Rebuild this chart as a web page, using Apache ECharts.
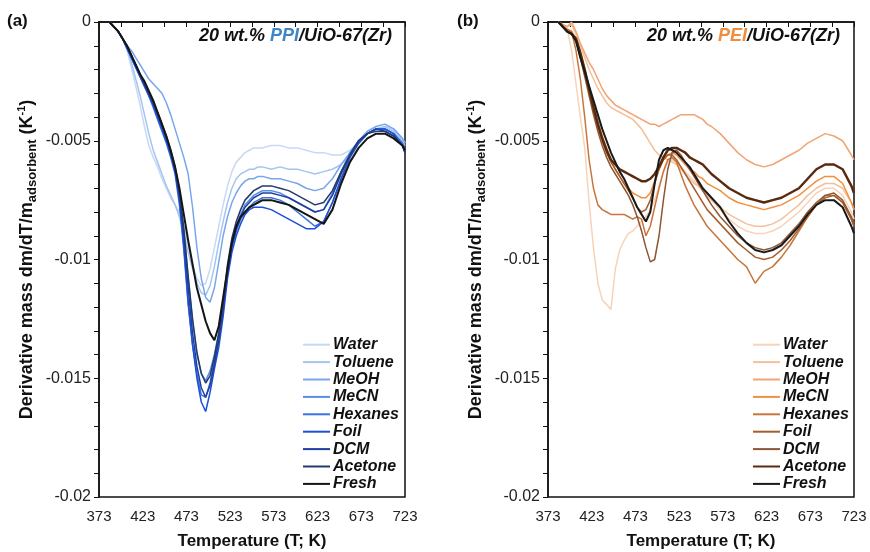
<!DOCTYPE html>
<html lang="en">
<head>
    <meta charset="UTF-8">
    <title>DTG PPI / PEI UiO-67(Zr)</title>
    <script src="https://cdn.jsdelivr.net/npm/echarts@6/dist/echarts.min.js"></script>
    <style>
        html, body { margin: 0; padding: 0; background: #fff; }
        #main { width: 870px; height: 552px; }
    </style>
</head>
<body>
    <div id="main"></div>
    <script>
        // temperatures (K) shared by all curves
        var temps = [385, 390, 395, 400, 405, 410, 415, 420, 425, 430, 435, 440, 445, 450, 455, 460, 465, 470, 475, 480,
            485, 490, 495, 500, 505, 510, 515, 520, 525, 530, 535, 540, 545, 550, 555, 560,
            570, 580, 590, 600, 610, 620, 630, 640, 650, 660, 670, 680, 690, 700, 710, 720, 723];

        var names = ['Water', 'Toluene', 'MeOH', 'MeCN', 'Hexanes', 'Foil', 'DCM', 'Acetone', 'Fresh'];
        var xTicks = [373, 423, 473, 523, 573, 623, 673, 723];
        var yTicks = [0, -0.005, -0.01, -0.015, -0.02];

        // (a) 20 wt.% PPI/UiO-67(Zr)
        var ppiWater = [0, -0.0002, -0.0004, -0.0007, -0.0012, -0.0019, -0.0027, -0.0035, -0.0044, -0.0052, -0.0057, -0.0061, -0.0066, -0.0070, -0.0074, -0.0077, -0.0080, -0.0086, -0.0094, -0.0102,
            -0.0108, -0.0111, -0.0110, -0.0104, -0.0095, -0.0086, -0.0077, -0.0069, -0.0063, -0.0059, -0.0057, -0.0055, -0.0054, -0.0053, -0.0053, -0.0053,
            -0.0052, -0.0052, -0.0053, -0.0053, -0.0054, -0.0055, -0.0055, -0.0056, -0.0056, -0.0054, -0.0051, -0.0047, -0.0045, -0.0044, -0.0045, -0.0049, -0.0051];
        var ppiToluene = [0, -0.0002, -0.0004, -0.0007, -0.0011, -0.0017, -0.0024, -0.0031, -0.0039, -0.0047, -0.0054, -0.0059, -0.0064, -0.0069, -0.0073, -0.0077, -0.0082, -0.0089, -0.0097, -0.0104,
            -0.0110, -0.0114, -0.0115, -0.0111, -0.0103, -0.0093, -0.0084, -0.0076, -0.0070, -0.0066, -0.0064, -0.0063, -0.0062, -0.0062, -0.0061, -0.0061,
            -0.0062, -0.0061, -0.0062, -0.0062, -0.0063, -0.0064, -0.0063, -0.0062, -0.0060, -0.0056, -0.0051, -0.0047, -0.0045, -0.0044, -0.0046, -0.0050, -0.0052];
        var ppiMeOH = [0, -0.0002, -0.0004, -0.0007, -0.0010, -0.0012, -0.0015, -0.0018, -0.0021, -0.0024, -0.0026, -0.0028, -0.0030, -0.0034, -0.0039, -0.0045, -0.0051, -0.0057, -0.0064, -0.0078,
            -0.0095, -0.0108, -0.0116, -0.0118, -0.0112, -0.0101, -0.0090, -0.0082, -0.0076, -0.0072, -0.0069, -0.0067, -0.0066, -0.0066, -0.0065, -0.0065,
            -0.0066, -0.0066, -0.0067, -0.0068, -0.0070, -0.0071, -0.0070, -0.0066, -0.0060, -0.0055, -0.0050, -0.0046, -0.0044, -0.0043, -0.0045, -0.0049, -0.0051];
        var ppiMeCN = [0, -0.0002, -0.0004, -0.0007, -0.0011, -0.0015, -0.0019, -0.0023, -0.0027, -0.0031, -0.0035, -0.0040, -0.0045, -0.0050, -0.0055, -0.0062, -0.0072, -0.0088, -0.0108, -0.0126,
            -0.0140, -0.0148, -0.0151, -0.0147, -0.0140, -0.0131, -0.0119, -0.0104, -0.0093, -0.0086, -0.0081, -0.0077, -0.0075, -0.0073, -0.0072, -0.0071,
            -0.0071, -0.0072, -0.0074, -0.0076, -0.0078, -0.0080, -0.0079, -0.0072, -0.0063, -0.0055, -0.0050, -0.0047, -0.0045, -0.0045, -0.0047, -0.0051, -0.0054];
        var ppiHexanes = [0, -0.0002, -0.0004, -0.0007, -0.0011, -0.0015, -0.0019, -0.0023, -0.0027, -0.0031, -0.0036, -0.0041, -0.0046, -0.0051, -0.0057, -0.0064, -0.0077, -0.0096, -0.0119, -0.0136,
            -0.0148, -0.0157, -0.0158, -0.0152, -0.0143, -0.0134, -0.0121, -0.0106, -0.0095, -0.0088, -0.0083, -0.0080, -0.0078, -0.0076, -0.0075, -0.0074,
            -0.0074, -0.0075, -0.0077, -0.0080, -0.0083, -0.0086, -0.0084, -0.0076, -0.0066, -0.0057, -0.0051, -0.0047, -0.0045, -0.0045, -0.0047, -0.0051, -0.0054];
        var ppiFoil = [0, -0.0002, -0.0004, -0.0007, -0.0011, -0.0015, -0.0019, -0.0023, -0.0027, -0.0031, -0.0035, -0.0040, -0.0045, -0.0050, -0.0056, -0.0063, -0.0075, -0.0094, -0.0118, -0.0136,
            -0.0150, -0.0160, -0.0164, -0.0156, -0.0146, -0.0137, -0.0124, -0.0108, -0.0097, -0.0090, -0.0085, -0.0081, -0.0079, -0.0078, -0.0078, -0.0078,
            -0.0079, -0.0081, -0.0083, -0.0085, -0.0087, -0.0087, -0.0084, -0.0076, -0.0066, -0.0057, -0.0051, -0.0047, -0.0045, -0.0045, -0.0047, -0.0052, -0.0054];
        var ppiDCM = [0, -0.0002, -0.0004, -0.0007, -0.0010, -0.0014, -0.0018, -0.0022, -0.0026, -0.0030, -0.0034, -0.0039, -0.0044, -0.0049, -0.0055, -0.0062, -0.0073, -0.0090, -0.0112, -0.0131,
            -0.0145, -0.0154, -0.0158, -0.0153, -0.0144, -0.0134, -0.0121, -0.0105, -0.0094, -0.0087, -0.0082, -0.0078, -0.0076, -0.0074, -0.0073, -0.0072,
            -0.0072, -0.0073, -0.0074, -0.0076, -0.0078, -0.0080, -0.0079, -0.0073, -0.0064, -0.0056, -0.0050, -0.0047, -0.0045, -0.0046, -0.0048, -0.0052, -0.0055];
        var ppiAcetone = [0, -0.0002, -0.0004, -0.0007, -0.0010, -0.0014, -0.0018, -0.0022, -0.0026, -0.0030, -0.0034, -0.0038, -0.0043, -0.0048, -0.0054, -0.0061, -0.0071, -0.0087, -0.0107, -0.0125,
            -0.0139, -0.0148, -0.0152, -0.0149, -0.0141, -0.0131, -0.0118, -0.0102, -0.0091, -0.0084, -0.0079, -0.0075, -0.0073, -0.0071, -0.0070, -0.0069,
            -0.0069, -0.0070, -0.0071, -0.0073, -0.0075, -0.0077, -0.0076, -0.0071, -0.0063, -0.0056, -0.0050, -0.0047, -0.0046, -0.0046, -0.0048, -0.0052, -0.0055];
        var ppiFresh = [0, -0.0002, -0.0004, -0.0007, -0.0010, -0.0014, -0.0018, -0.0022, -0.0025, -0.0029, -0.0033, -0.0038, -0.0043, -0.0048, -0.0054, -0.0061, -0.0070, -0.0081, -0.0092, -0.0102,
            -0.0112, -0.0119, -0.0126, -0.0131, -0.0134, -0.0128, -0.0116, -0.0104, -0.0093, -0.0086, -0.0082, -0.0080, -0.0078, -0.0077, -0.0076, -0.0075,
            -0.0075, -0.0076, -0.0077, -0.0079, -0.0081, -0.0083, -0.0085, -0.0079, -0.0068, -0.0059, -0.0053, -0.0049, -0.0047, -0.0047, -0.0049, -0.0052, -0.0054];

        // (b) 20 wt.% PEI/UiO-67(Zr)
        var peiWater = [0, -0.0002, -0.0003, -0.0012, -0.0026, -0.0040, -0.0053, -0.0076, -0.0095, -0.0110, -0.0117, -0.0119, -0.0121, -0.0104, -0.0096, -0.0092, -0.0089, -0.0088, -0.0086, -0.0084,
            -0.0082, -0.0079, -0.0075, -0.0069, -0.0063, -0.0059, -0.0058, -0.0059, -0.0061, -0.0063, -0.0065, -0.0067, -0.0069, -0.0071, -0.0073, -0.0075,
            -0.0079, -0.0083, -0.0086, -0.0088, -0.0089, -0.0089, -0.0088, -0.0086, -0.0083, -0.0080, -0.0076, -0.0072, -0.0070, -0.0070, -0.0073, -0.0080, -0.0083];
        var peiToluene = [0, -0.0001, -0.0002, -0.0001, -0.0005, -0.0010, -0.0015, -0.0020, -0.0024, -0.0028, -0.0031, -0.0034, -0.0036, -0.0037, -0.0038, -0.0039, -0.0040, -0.0041, -0.0043, -0.0045,
            -0.0048, -0.0051, -0.0054, -0.0056, -0.0057, -0.0058, -0.0059, -0.0060, -0.0062, -0.0064, -0.0066, -0.0068, -0.0069, -0.0071, -0.0073, -0.0075,
            -0.0078, -0.0081, -0.0083, -0.0085, -0.0086, -0.0086, -0.0085, -0.0083, -0.0080, -0.0077, -0.0073, -0.0070, -0.0068, -0.0068, -0.0070, -0.0076, -0.0079];
        var peiMeOH = [0, -0.0001, -0.0002, 0, -0.0004, -0.0009, -0.0013, -0.0017, -0.0020, -0.0024, -0.0028, -0.0031, -0.0033, -0.0035, -0.0036, -0.0037, -0.0038, -0.0039, -0.0040, -0.0041,
            -0.0042, -0.0043, -0.0043, -0.0044, -0.0043, -0.0042, -0.0041, -0.0040, -0.0039, -0.0039, -0.0039, -0.0039, -0.0040, -0.0041, -0.0043, -0.0044,
            -0.0047, -0.0051, -0.0055, -0.0058, -0.0060, -0.0061, -0.0060, -0.0058, -0.0056, -0.0054, -0.0051, -0.0049, -0.0047, -0.0048, -0.0050, -0.0056, -0.0058];
        var peiMeCN = [0, -0.0002, -0.0003, -0.0004, -0.0007, -0.0013, -0.0020, -0.0028, -0.0035, -0.0042, -0.0048, -0.0053, -0.0058, -0.0062, -0.0065, -0.0068, -0.0070, -0.0072, -0.0073, -0.0074,
            -0.0074, -0.0072, -0.0067, -0.0062, -0.0058, -0.0056, -0.0055, -0.0056, -0.0058, -0.0060, -0.0062, -0.0063, -0.0065, -0.0066, -0.0068, -0.0069,
            -0.0071, -0.0074, -0.0076, -0.0077, -0.0078, -0.0079, -0.0078, -0.0077, -0.0075, -0.0073, -0.0070, -0.0067, -0.0065, -0.0065, -0.0068, -0.0076, -0.0079];
        var peiHexanes = [0, -0.0002, -0.0003, -0.0004, -0.0012, -0.0024, -0.0040, -0.0058, -0.0070, -0.0077, -0.0079, -0.0080, -0.0081, -0.0081, -0.0081, -0.0081, -0.0082, -0.0083, -0.0082, -0.0083,
            -0.0090, -0.0086, -0.0078, -0.0070, -0.0063, -0.0058, -0.0057, -0.0059, -0.0064, -0.0069, -0.0073, -0.0077, -0.0080, -0.0083, -0.0086, -0.0088,
            -0.0092, -0.0096, -0.0100, -0.0103, -0.0110, -0.0105, -0.0103, -0.0099, -0.0094, -0.0088, -0.0082, -0.0077, -0.0073, -0.0073, -0.0076, -0.0083, -0.0086];
        var peiFoil = [0, -0.0002, -0.0004, -0.0005, -0.0008, -0.0014, -0.0021, -0.0029, -0.0037, -0.0044, -0.0050, -0.0055, -0.0059, -0.0062, -0.0065, -0.0068, -0.0071, -0.0074, -0.0078, -0.0080,
            -0.0079, -0.0075, -0.0068, -0.0062, -0.0058, -0.0056, -0.0056, -0.0058, -0.0061, -0.0064, -0.0067, -0.0070, -0.0073, -0.0076, -0.0079, -0.0081,
            -0.0085, -0.0089, -0.0093, -0.0096, -0.0099, -0.0100, -0.0099, -0.0096, -0.0092, -0.0087, -0.0082, -0.0077, -0.0074, -0.0073, -0.0076, -0.0083, -0.0086];
        var peiDCM = [0, -0.0002, -0.0004, -0.0005, -0.0008, -0.0015, -0.0023, -0.0031, -0.0039, -0.0046, -0.0052, -0.0057, -0.0061, -0.0064, -0.0067, -0.0070, -0.0073, -0.0077, -0.0082, -0.0088,
            -0.0095, -0.0101, -0.0100, -0.0090, -0.0075, -0.0062, -0.0055, -0.0054, -0.0056, -0.0059, -0.0062, -0.0065, -0.0068, -0.0071, -0.0074, -0.0077,
            -0.0082, -0.0086, -0.0090, -0.0093, -0.0095, -0.0096, -0.0095, -0.0093, -0.0089, -0.0085, -0.0080, -0.0076, -0.0073, -0.0072, -0.0075, -0.0082, -0.0085];
        var peiAcetone = [0, -0.0002, -0.0004, -0.0005, -0.0007, -0.0013, -0.0020, -0.0028, -0.0036, -0.0043, -0.0049, -0.0054, -0.0058, -0.0060, -0.0062, -0.0063, -0.0064, -0.0065, -0.0066, -0.0067,
            -0.0067, -0.0066, -0.0064, -0.0061, -0.0057, -0.0054, -0.0053, -0.0053, -0.0054, -0.0055, -0.0057, -0.0058, -0.0059, -0.0060, -0.0062, -0.0064,
            -0.0067, -0.0070, -0.0072, -0.0074, -0.0075, -0.0076, -0.0075, -0.0074, -0.0072, -0.0070, -0.0066, -0.0062, -0.0060, -0.0060, -0.0062, -0.0069, -0.0072];
        var peiFresh = [0, -0.0002, -0.0004, -0.0005, -0.0008, -0.0015, -0.0021, -0.0027, -0.0033, -0.0039, -0.0045, -0.0050, -0.0055, -0.0059, -0.0063, -0.0066, -0.0070, -0.0074, -0.0078, -0.0081,
            -0.0084, -0.0080, -0.0068, -0.0058, -0.0054, -0.0053, -0.0054, -0.0055, -0.0057, -0.0059, -0.0061, -0.0064, -0.0067, -0.0070, -0.0072, -0.0074,
            -0.0078, -0.0084, -0.0089, -0.0093, -0.0096, -0.0097, -0.0096, -0.0094, -0.0090, -0.0086, -0.0081, -0.0077, -0.0075, -0.0075, -0.0078, -0.0086, -0.0089];

        var ppiValues = [ppiWater, ppiToluene, ppiMeOH, ppiMeCN, ppiHexanes, ppiFoil, ppiDCM, ppiAcetone, ppiFresh];
        var peiValues = [peiWater, peiToluene, peiMeOH, peiMeCN, peiHexanes, peiFoil, peiDCM, peiAcetone, peiFresh];

        var blues = ['#c6d9f6', '#a6c4f0', '#78a6ec', '#5b8ee6', '#3a72e0', '#1d4fd8', '#1f3f9e', '#233a6a', '#151515'];
        var oranges = ['#f8d3b8', '#f4c09c', '#f1a474', '#f0903f', '#c8753a', '#a65d2c', '#8e5633', '#5a2a10', '#1a1a1a'];
        var ppiWidths = [1.5, 1.5, 1.5, 1.5, 1.5, 1.5, 1.5, 1.5, 2];
        var peiWidths = [1.5, 1.5, 1.5, 1.5, 1.5, 1.5, 1.5, 2.5, 2];

        var font = 'Liberation Sans, Arial, sans-serif';

        function pairs(vals) {
            return temps.map(function (t, i) { return [t, vals[i]]; });
        }

        var series = [];
        names.forEach(function (n, i) {
            series.push({
                name: n, type: 'line', xAxisIndex: 0, yAxisIndex: 0, symbol: 'none',
                data: pairs(ppiValues[i]),
                lineStyle: { color: blues[i], width: ppiWidths[i] }, itemStyle: { color: blues[i] }
            });
        });
        names.forEach(function (n, i) {
            series.push({
                name: 'b:' + n, type: 'line', xAxisIndex: 1, yAxisIndex: 1, symbol: 'none',
                data: pairs(peiValues[i]),
                lineStyle: { color: oranges[i], width: peiWidths[i] }, itemStyle: { color: oranges[i] }
            });
        });

        function xAxis(idx) {
            return {
                type: 'value', gridIndex: idx, min: xTicks[0], max: xTicks[xTicks.length - 1], interval: 50,
                name: 'Temperature (T; K)', nameLocation: 'middle', nameGap: 36,
                nameTextStyle: { fontFamily: font, fontSize: 17, fontWeight: 'bold', color: '#111' },
                axisLine: { lineStyle: { color: '#111', width: 1.5 } },
                axisTick: { inside: false, length: 5, lineStyle: { color: '#111' } },
                minorTick: { show: true, splitNumber: 2, length: 5, lineStyle: { color: '#111' } },
                axisLabel: { fontFamily: font, fontSize: 15, color: '#222', margin: 12 },
                splitLine: { show: false }
            };
        }
        function yAxis(idx) {
            return {
                type: 'value', gridIndex: idx, min: yTicks[yTicks.length - 1], max: yTicks[0], interval: 0.005,
                name: '{b|Derivative mass dm/dT/m}{sub|adsorbent}{b| (K}{sup|-1}{b|)}',
                nameLocation: 'middle', nameGap: 60, nameRotate: 90,
                nameTextStyle: {
                    fontFamily: font, color: '#111',
                    rich: {
                        b: { fontFamily: font, fontSize: 18, fontWeight: 'bold', color: '#111', lineHeight: 23 },
                        sub: { fontFamily: font, fontSize: 13, fontWeight: 'bold', color: '#111', lineHeight: 23, verticalAlign: 'bottom' },
                        sup: { fontFamily: font, fontSize: 11, fontWeight: 'bold', color: '#111', lineHeight: 23, verticalAlign: 'top' }
                    }
                },
                axisLine: { show: true, lineStyle: { color: '#111', width: 1.5 } },
                axisTick: { show: true, inside: false, length: 5, lineStyle: { color: '#111' } },
                minorTick: { show: true, splitNumber: 5, length: 5, lineStyle: { color: '#111' } },
                axisLabel: {
                    fontFamily: font, fontSize: 16, color: '#222', margin: 8,
                    formatter: function (v) { return String(+v.toFixed(3)); }
                },
                splitLine: { show: false }
            };
        }

        function legend(left, prefix) {
            return {
                orient: 'vertical', left: left, top: 336, padding: 0,
                icon: 'rect', itemWidth: 27, itemHeight: 2, itemGap: 0,
                data: names.map(function (n) { return prefix + n; }),
                formatter: function (n) { return n.replace('b:', ''); },
                selectedMode: false,
                textStyle: { fontFamily: font, fontSize: 16, fontStyle: 'italic', fontWeight: 'bold', color: '#111', padding: [0, 0, 0, -2], lineHeight: 17.4 }
            };
        }

        function title(text, accent, right) {
            return {
                text: '{k|20 wt.% }{c|' + text + '}{k|/UiO-67(Zr)}',
                right: right, top: 27, padding: 0,
                textStyle: {
                    rich: {
                        k: { fontFamily: font, fontSize: 18, fontStyle: 'italic', fontWeight: 'bold', color: '#111' },
                        c: { fontFamily: font, fontSize: 18, fontStyle: 'italic', fontWeight: 'bold', color: accent }
                    }
                }
            };
        }

        var chart = echarts.init(document.getElementById('main'), null, { renderer: 'canvas' });
        var option = {
            animation: false,
            backgroundColor: '#fff',
            title: [
                title('PPI', '#3d85c6', 478),
                title('PEI', '#f08c3c', 30),
                { text: '(a)', left: 7, top: 13, padding: 0, textStyle: { fontFamily: font, fontSize: 17, fontWeight: 'bold', color: '#111' } },
                { text: '(b)', left: 457, top: 13, padding: 0, textStyle: { fontFamily: font, fontSize: 17, fontWeight: 'bold', color: '#111' } }
            ],
            grid: [
                { left: 99, right: 465, top: 22, bottom: 55, show: true, borderColor: '#111', borderWidth: 1.5, containLabel: false, outerBoundsMode: 'none' },
                { left: 548, right: 16, top: 22, bottom: 55, show: true, borderColor: '#111', borderWidth: 1.5, containLabel: false, outerBoundsMode: 'none' }
            ],
            legend: [legend(303, ''), legend(753, 'b:')],
            xAxis: [xAxis(0), xAxis(1)],
            yAxis: [yAxis(0), yAxis(1)],
            series: series
        };
        chart.setOption(option);
    </script>
</body>
</html>
